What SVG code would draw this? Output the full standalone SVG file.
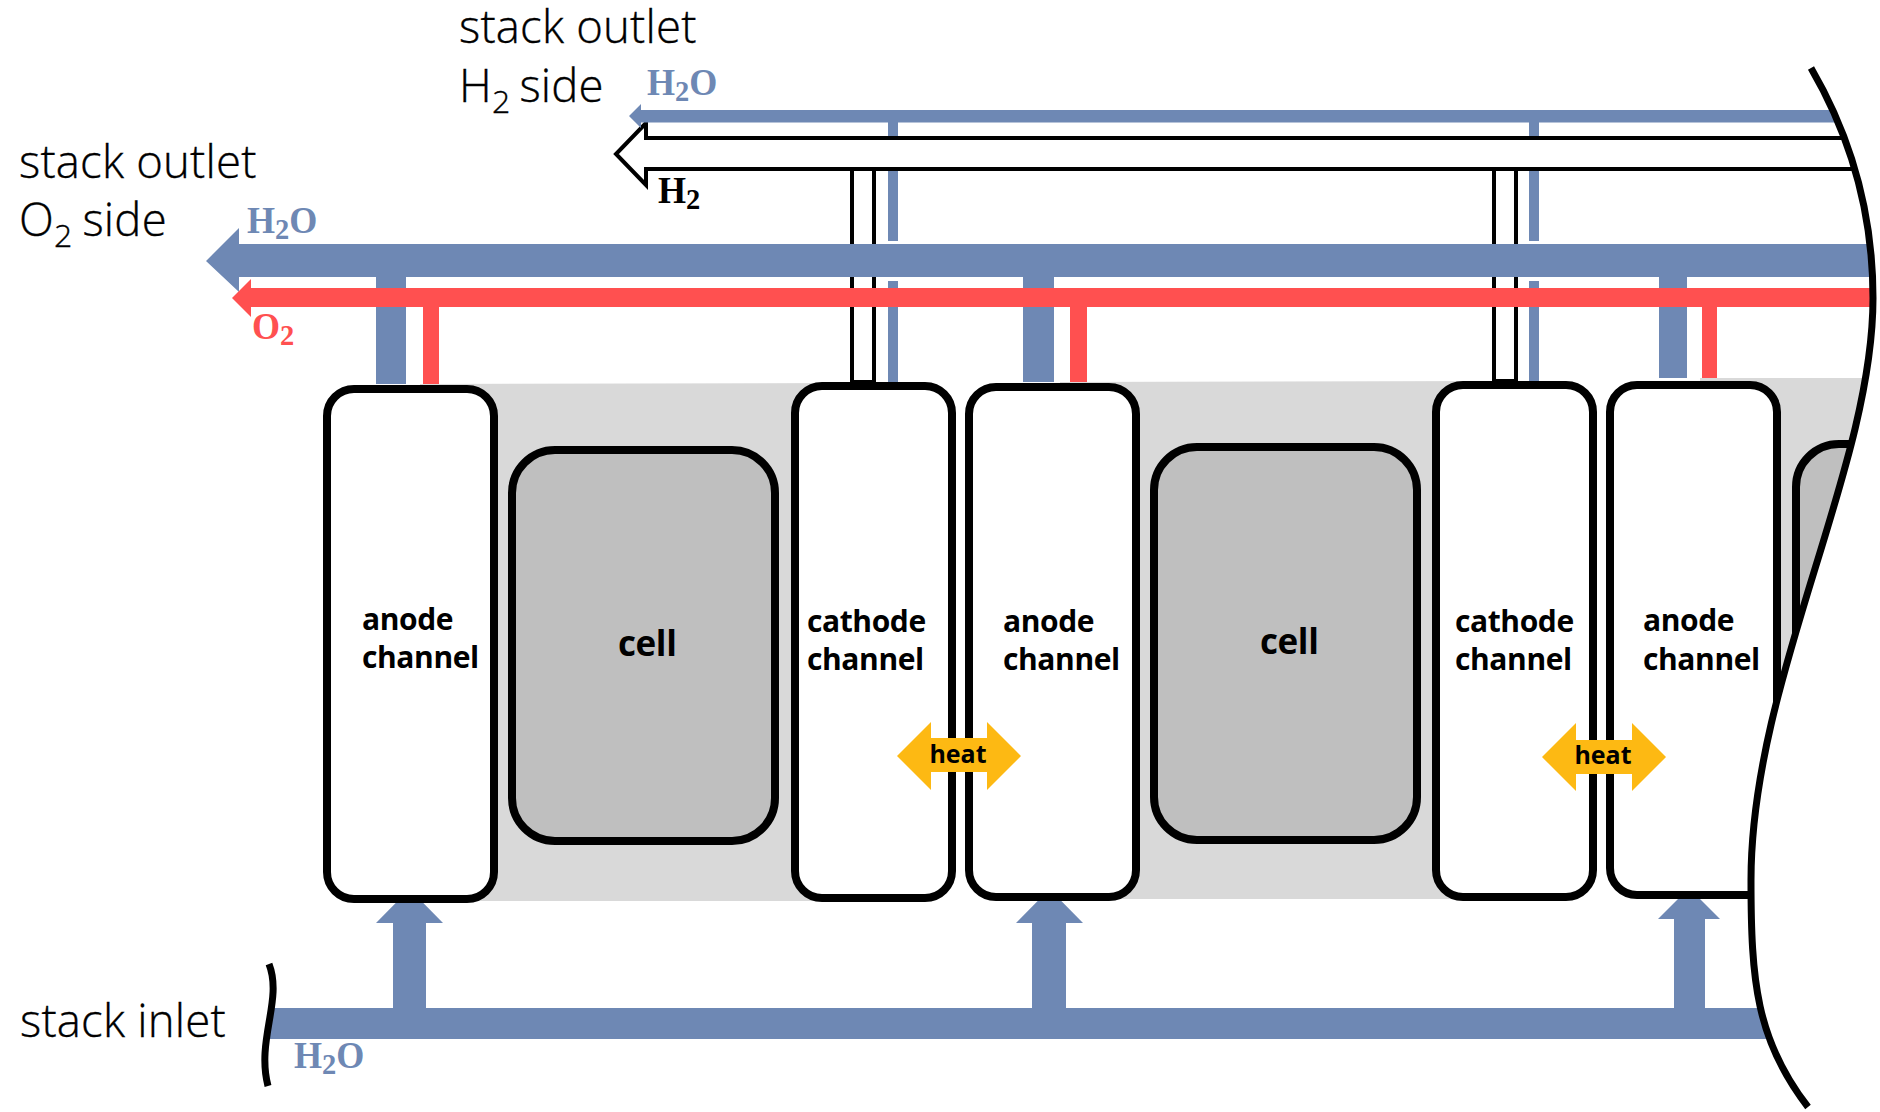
<svg xmlns="http://www.w3.org/2000/svg" width="1880" height="1112" viewBox="0 0 1880 1112">
<style>
.blue{fill:#6e88b4}
.red{fill:#ff5050}
.band{fill:#d9d9d9}
.ch{fill:#fff;stroke:#000;stroke-width:8}
.cell{fill:#bfbfbf;stroke:#000;stroke-width:8}
.h2{fill:#fff;stroke:#000;stroke-width:4}
.heat{fill:#fdb913}
.big{font-family:"Open Sans","Noto Sans",sans-serif;font-size:45.500px;font-weight:300;fill:#000;stroke:#000;stroke-width:.35px;letter-spacing:.2px}
.lab{font-family:"Open Sans","Noto Sans",sans-serif;font-size:30px;font-weight:700;fill:#000;letter-spacing:-.4px}
.celll{font-family:"Open Sans","Noto Sans",sans-serif;font-size:35px;font-weight:700;fill:#000;letter-spacing:-.4px}
.heatl{font-family:"Open Sans","Noto Sans",sans-serif;font-size:25px;font-weight:700;fill:#000}
.chem{font-family:"Liberation Serif",serif;font-size:38px;font-weight:700}
.sub{font-size:30px}
.cb{fill:#6e88b4}
.cr{fill:#ff5050}
.wave{fill:none;stroke:#000;stroke-width:7}
</style>
<g id="bands">
<polygon class="band" points="420,384 850,383 850,901 420,901"/>
<polygon class="band" points="1060,382 1500,381 1500,899 1060,899"/>
<polygon class="band" points="1700,378 1880,378 1880,896 1700,896"/>
</g>
<g id="connectors">
<rect class="blue" x="888" y="122" width="10" height="119"/>
<rect class="blue" x="888" y="281" width="10" height="101"/>
<rect class="blue" x="1529" y="122" width="10" height="119"/>
<rect class="blue" x="1529" y="281" width="10" height="100"/>
<rect class="h2" x="852" y="168" width="22" height="214"/>
<rect class="h2" x="1494" y="168" width="22" height="213"/>
<polygon id="h2-outlet" class="h2" points="1880,138 646,138 646,123 616,154 646,185 646,169 1880,169"/>
<polygon id="h2o-outlet-h2" class="blue" points="1880,110 641,110 641,104 629,116 641,128 641,122.500 1880,122.500"/>
<polygon id="h2o-outlet-o2" class="blue" points="1880,244 239,244 239,228 206,261 239,292 239,277 1880,277"/>
<rect class="blue" x="376" y="277" width="30" height="107"/>
<rect class="blue" x="1023" y="277" width="31" height="105"/>
<rect class="blue" x="1659" y="277" width="28" height="101"/>
<polygon id="o2-outlet" class="red" points="1880,288 251,288 251,279 232,298 251,317 251,307 1880,307"/>
<rect class="red" x="423" y="307" width="16" height="77"/>
<rect class="red" x="1070" y="307" width="17" height="75"/>
<rect class="red" x="1702" y="307" width="15" height="71"/>
<polygon id="inlet" class="blue" points="272,1008 1880,1008 1880,1039 266,1039"/>
<polygon class="blue" points="393,1010 393,923 376,923 409.500,889 443,923 426,923 426,1010"/>
<polygon class="blue" points="1032,1010 1032,923 1016,923 1049.500,889 1083,923 1066,923 1066,1010"/>
<polygon class="blue" points="1674,1010 1674,919 1658,919 1689,888 1720,919 1705,919 1705,1010"/>
</g>
<g id="anode1"><rect class="ch" x="327" y="389" width="167" height="510" rx="27"/><text class="lab" x="362" y="630">anode</text><text class="lab" x="362" y="668">channel</text></g>
<g id="cell1"><rect class="cell" x="512" y="450" width="263" height="391" rx="43"/><text class="celll" x="618" y="656">cell</text></g>
<g id="cathode1"><rect class="ch" x="795" y="386" width="157" height="512" rx="27"/><text class="lab" x="807" y="632">cathode</text><text class="lab" x="807" y="670">channel</text></g>
<g id="anode2"><rect class="ch" x="969" y="387" width="167" height="510" rx="27"/><text class="lab" x="1003" y="632">anode</text><text class="lab" x="1003" y="670">channel</text></g>
<g id="cell2"><rect class="cell" x="1154" y="447" width="263" height="393" rx="43"/><text class="celll" x="1260" y="654">cell</text></g>
<g id="cathode2"><rect class="ch" x="1436" y="385" width="157" height="512" rx="27"/><text class="lab" x="1455" y="632">cathode</text><text class="lab" x="1455" y="670">channel</text></g>
<g id="anode3"><rect class="ch" x="1610" y="385" width="167" height="510" rx="27"/><text class="lab" x="1643" y="631">anode</text><text class="lab" x="1643" y="670">channel</text></g>
<g id="cell3"><rect class="cell" x="1796" y="444" width="264" height="398" rx="43"/></g>
<g id="heat1"><polygon class="heat" points="897,756 931,722 931,738 987,738 987,722 1021,756 987,790 987,772 931,772 931,790"/><text class="heatl" x="958" y="763" text-anchor="middle">heat</text></g>
<g id="heat2"><polygon class="heat" points="1542,757 1576,723 1576,740 1632,740 1632,723 1666,757 1632,791 1632,774 1576,774 1576,791"/><text class="heatl" x="1603" y="764" text-anchor="middle">heat</text></g>
<g id="breaks">
<path fill="#fff" d="M1811,68 C1850,135 1873,210 1873,298 C1873,470 1751,680 1751,880 C1751,980 1756,1040 1808,1107 L1880,1107 L1880,68 Z"/>
<path class="wave" d="M1811,68 C1850,135 1873,210 1873,298 C1873,470 1751,680 1751,880 C1751,980 1756,1040 1808,1107"/>
<path fill="#fff" d="M269,964 C283,1000 256,1040 268,1086 L200,1086 L200,964 Z"/>
<path class="wave" d="M269,964 C283,1000 256,1040 268,1086"/>
</g>
<g id="labels">
<text class="big" x="459" y="43">stack outlet</text>
<text class="big" x="459" y="102">H<tspan font-size="32" dy="11">2</tspan><tspan dy="-11" dx="-3"> side</tspan></text>
<text class="big" x="19" y="178">stack outlet</text>
<text class="big" x="19" y="236">O<tspan font-size="32" dy="11">2</tspan><tspan dy="-11" dx="-2"> side</tspan></text>
<text class="big" x="20" y="1037">stack inlet</text>
<text class="chem cb" transform="translate(647,95) scale(.95,1)">H<tspan class="sub" dy="6">2</tspan><tspan dy="-6">O</tspan></text>
<text class="chem cb" transform="translate(247,233) scale(.95,1)">H<tspan class="sub" dy="6">2</tspan><tspan dy="-6">O</tspan></text>
<text class="chem cb" transform="translate(294,1068) scale(.95,1)">H<tspan class="sub" dy="6">2</tspan><tspan dy="-6">O</tspan></text>
<text class="chem" fill="#000" transform="translate(658,203) scale(.95,1)">H<tspan class="sub" dy="6">2</tspan></text>
<text class="chem cr" transform="translate(252,339) scale(.95,1)">O<tspan class="sub" dy="6">2</tspan></text>
</g>
</svg>
